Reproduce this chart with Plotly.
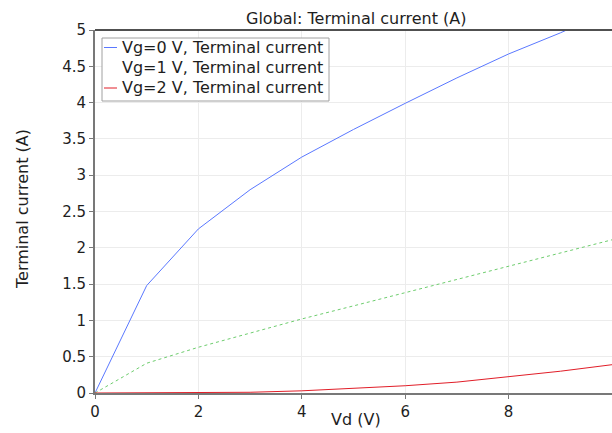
import plotly.graph_objects as go

vd = [0, 1, 2, 3, 4, 5, 6, 7, 8, 9, 10]
i_vg0 = [0, 1.48, 2.26, 2.80, 3.25, 3.63, 3.99, 4.34, 4.67, 4.96, 5.28]
i_vg1 = [0, 0.41, 0.63, 0.83, 1.02, 1.20, 1.38, 1.56, 1.74, 1.92, 2.11]
i_vg2 = [0, 0, 0, 0.01, 0.03, 0.06, 0.10, 0.15, 0.22, 0.30, 0.39]
names = ["Vg=0 V, Terminal current", "Vg=1 V, Terminal current", "Vg=2 V, Terminal current"]
x_ticks = [0, 2, 4, 6, 8]
y_ticks = [0, 0.5, 1, 1.5, 2, 2.5, 3, 3.5, 4, 4.5, 5]
y_ticktext = ["0", "0.5", "1", "1.5", "2", "2.5", "3", "3.5", "4", "4.5", "5"]

FONT = "DejaVu Sans"
TXT = "rgb(30,30,30)"
colors = ["rgb(90,120,255)", "rgb(110,205,110)", "rgb(225,30,40)"]
legend_line_colors = ["rgb(90,120,255)", "rgba(0,0,0,0)", "rgb(225,30,40)"]

W, H = 612, 433
L, R, T, B = 95, 0, 30, 40
PW, PH = W - L - R, H - T - B
X0, Y1 = L, H - B  # pixel of plot left / bottom


def px(xp):
    return (xp - X0) / PW


def py(yp):
    return (Y1 - yp) / PH


fig = go.Figure()
series = [i_vg0, i_vg1, i_vg2]
dashes = ["solid", "dot", "solid"]
for name, ys, c, d in zip(names, series, colors, dashes):
    fig.add_trace(go.Scatter(x=vd, y=ys, mode="lines", name=name, showlegend=False,
                             line=dict(color=c, width=1, dash=d)))

axis_common = dict(showgrid=True, gridcolor="rgb(236,236,236)", gridwidth=1,
                   showline=True, linecolor="rgb(120,120,120)", linewidth=2,
                   ticks="outside", ticklen=4, tickcolor="rgb(120,120,120)",
                   tickfont=dict(family=FONT, size=15, color=TXT),
                   zeroline=False, automargin=False)
fig.update_layout(
    width=W, height=H,
    margin=dict(l=L, r=R, t=T, b=B),
    paper_bgcolor="white", plot_bgcolor="white",
    font=dict(family=FONT, size=15, color=TXT),
    xaxis=dict(range=[0, 10], tickvals=x_ticks, **axis_common),
    yaxis=dict(range=[0, 5], tickvals=y_ticks, ticktext=y_ticktext, **axis_common),
    showlegend=False,
)

# top frame line
fig.add_shape(type="line", xref="paper", yref="paper", x0=0, x1=1, y0=1, y1=1,
              line=dict(color="rgb(80,80,80)", width=2))

# title and axis titles
fig.add_annotation(text="Global: Terminal current (A)", xref="paper", yref="paper",
                   x=px(356), y=py(18), showarrow=False, xanchor="center", yanchor="middle",
                   font=dict(family=FONT, size=16, color=TXT))
fig.add_annotation(text="Vd (V)", xref="paper", yref="paper",
                   x=px(356), y=py(419), showarrow=False, xanchor="center", yanchor="middle",
                   font=dict(family=FONT, size=16, color=TXT))
fig.add_annotation(text="Terminal current (A)", xref="paper", yref="paper",
                   x=px(22), y=py(209), showarrow=False, textangle=-90,
                   xanchor="center", yanchor="middle",
                   font=dict(family=FONT, size=16, color=TXT))

# legend box (drawn manually to match compact layout)
fig.add_shape(type="rect", xref="paper", yref="paper",
              x0=px(102), x1=px(329), y0=py(101), y1=py(38),
              fillcolor="white", line=dict(color="rgb(160,160,160)", width=1), layer="above")
row_y = [47.5, 67.5, 88]
for name, c, ry in zip(names, legend_line_colors, row_y):
    fig.add_shape(type="line", xref="paper", yref="paper",
                  x0=px(104), x1=px(117), y0=py(ry), y1=py(ry),
                  line=dict(color=c, width=1), layer="above")
    fig.add_annotation(text=name, xref="paper", yref="paper", x=px(120), y=py(ry),
                       showarrow=False, xanchor="left", yanchor="middle",
                       font=dict(family=FONT, size=16, color=TXT))

fig.write_html("out.html", config={"displayModeBar": False},
               post_script="document.body.style.margin='0';document.body.style.overflow='hidden';")
